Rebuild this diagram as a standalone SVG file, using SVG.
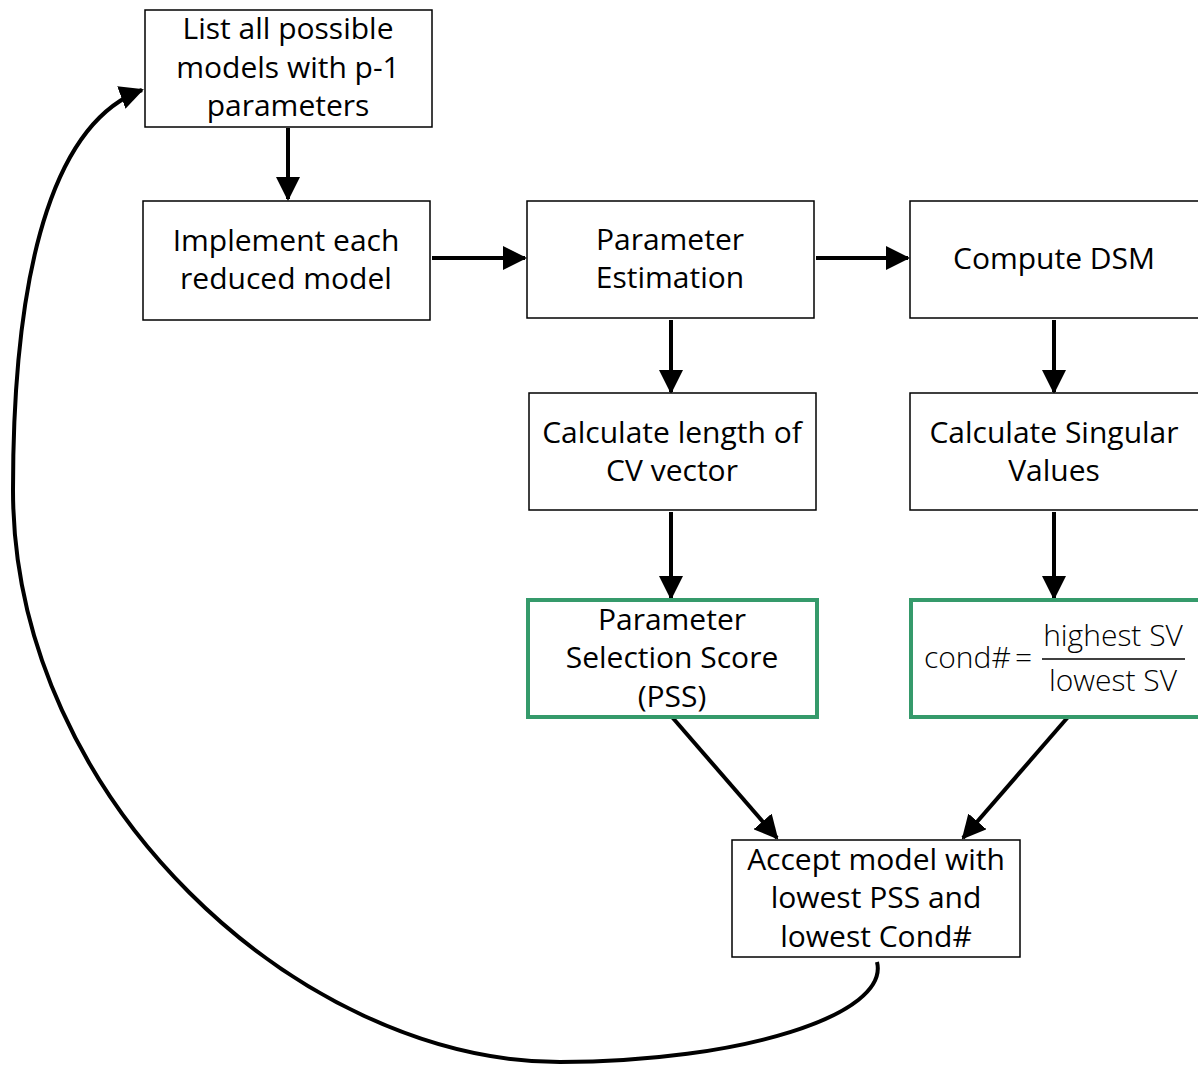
<svg xmlns="http://www.w3.org/2000/svg" width="1198" height="1065" viewBox="0 0 1198 1065">
<style>
.box{fill:#fff;stroke:#000;stroke-width:1.5}
.gbox{fill:#fff;stroke:#359a6b;stroke-width:4}
.t{font-family:"Open Sans","Noto Sans",sans-serif;font-size:30px;fill:#000;text-anchor:middle}
.m{font-family:"Open Sans","Noto Sans",sans-serif;font-size:30px;font-weight:300;fill:#000}
.c{fill:none;stroke:#000;stroke-width:4}
</style>
<defs>
<marker id="ah" markerWidth="6" markerHeight="6" refX="5.5" refY="3" orient="auto" markerUnits="strokeWidth" viewBox="0 0 6 6">
<path d="M0,0 L6,3 L0,6 Z" fill="#000"/>
</marker>
</defs>
<rect width="1198" height="1065" fill="#fff"/>
<g id="connectors">
<line class="c" x1="288" y1="128" x2="288" y2="199" marker-end="url(#ah)"/>
<line class="c" x1="432" y1="258" x2="525" y2="258" marker-end="url(#ah)"/>
<line class="c" x1="816" y1="258" x2="908" y2="258" marker-end="url(#ah)"/>
<line class="c" x1="671" y1="320" x2="671" y2="392" marker-end="url(#ah)"/>
<line class="c" x1="1054" y1="320" x2="1054" y2="392" marker-end="url(#ah)"/>
<line class="c" x1="671" y1="512" x2="671" y2="598" marker-end="url(#ah)"/>
<line class="c" x1="1054" y1="512" x2="1054" y2="598" marker-end="url(#ah)"/>
<line class="c" x1="672" y1="717" x2="777" y2="838" marker-end="url(#ah)"/>
<line class="c" x1="1068" y1="717" x2="963" y2="838" marker-end="url(#ah)"/>
<path class="c" d="M877,962 C890,1015 740,1062 560,1062 C300,1062 13,800 13,490 C13,250 60,120 142,90" marker-end="url(#ah)"/>
</g>
<g id="n1"><rect class="box" x="145" y="10" width="287" height="117"/>
<text class="t" x="288" y="39">List all possible</text><text class="t" x="288" y="78">models with p-1</text><text class="t" x="288" y="116">parameters</text></g>
<g id="n2"><rect class="box" x="143" y="201" width="287" height="119"/>
<text class="t" x="286" y="251">Implement each</text><text class="t" x="286" y="289">reduced model</text></g>
<g id="n3"><rect class="box" x="527" y="201" width="287" height="117"/>
<text class="t" x="670" y="250">Parameter</text><text class="t" x="670" y="288">Estimation</text></g>
<g id="n4"><rect class="box" x="910" y="201" width="290" height="117"/>
<text class="t" x="1054" y="269">Compute DSM</text></g>
<g id="n5"><rect class="box" x="529" y="393" width="287" height="117"/>
<text class="t" x="672" y="443">Calculate length of</text><text class="t" x="672" y="481">CV vector</text></g>
<g id="n6"><rect class="box" x="910" y="393" width="290" height="117"/>
<text class="t" x="1054" y="443">Calculate Singular</text><text class="t" x="1054" y="481">Values</text></g>
<g id="n7"><rect class="gbox" x="528" y="600" width="289" height="117"/>
<text class="t" x="672" y="630">Parameter</text><text class="t" x="672" y="668">Selection Score</text><text class="t" x="672" y="707">(PSS)</text></g>
<g id="n8"><rect class="gbox" x="911" y="600" width="290" height="117"/>
<text class="m" x="924" y="668">cond#</text>
<text class="m" x="1015" y="668">=</text>
<line x1="1042" y1="659" x2="1185" y2="659" stroke="#000" stroke-width="1.5"/>
<text class="m" x="1113" y="646" text-anchor="middle">highest SV</text>
<text class="m" x="1113" y="691" text-anchor="middle">lowest SV</text></g>
<g id="n9"><rect class="box" x="732" y="840" width="288" height="117"/>
<text class="t" x="876" y="870">Accept model with</text><text class="t" x="876" y="908">lowest PSS and</text><text class="t" x="876" y="947">lowest Cond#</text></g>
</svg>
